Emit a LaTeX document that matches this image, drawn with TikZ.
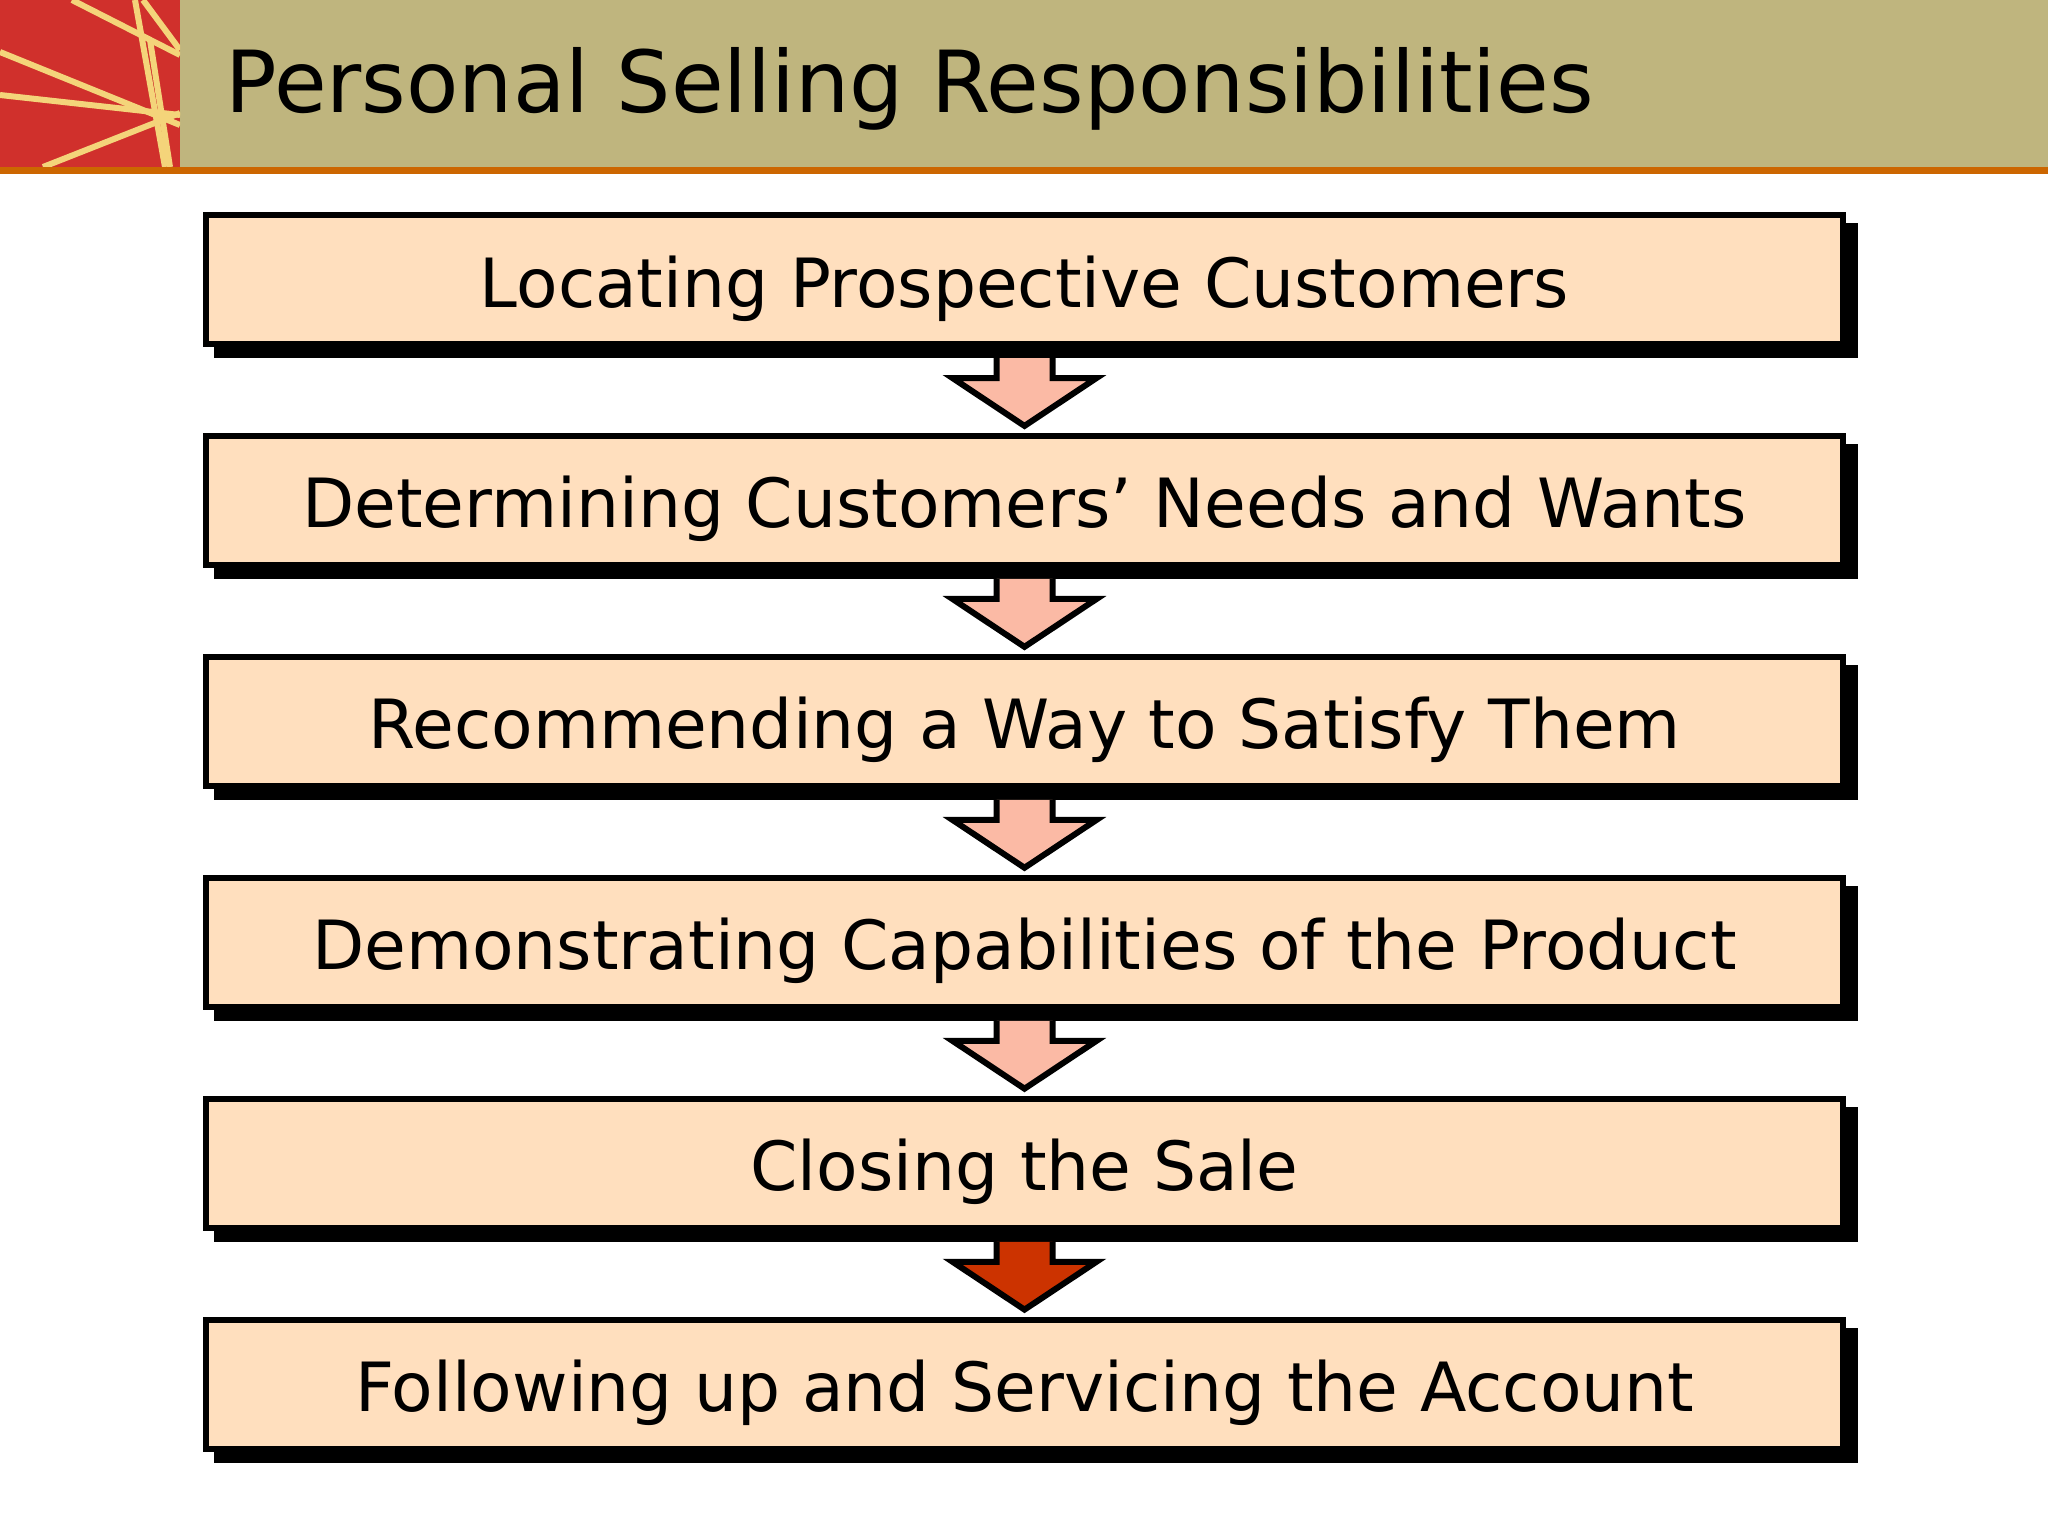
\documentclass[tikz,border=0pt]{standalone}
\usepackage{fontspec}
\setmainfont{DejaVu Sans}
\usetikzlibrary{positioning,calc,shadows}

\definecolor{headtan}{RGB}{191,181,126}
\definecolor{logored}{RGB}{208,48,44}
\definecolor{logoline}{RGB}{244,212,122}
\definecolor{rulebar}{RGB}{204,102,0}
\definecolor{boxfill}{RGB}{255,223,190}
\definecolor{arrowpink}{RGB}{251,186,165}
\definecolor{arrowred}{RGB}{204,51,0}

\tikzset{
  stepbox/.style={draw=black, line width=0.06cm, fill=boxfill,
    minimum width=16.37cm, minimum height=1.29cm, inner sep=0pt,
    text height=0.55cm, text depth=0pt, font=\fontsize{19.3}{23}\selectfont,
    drop shadow={shadow xshift=0.11cm, shadow yshift=-0.11cm,
      fill=black, draw=black, line width=0.06cm, opacity=1}},
  blockarrow/.style={draw=black, line width=0.06cm, line join=miter}
}

\newcommand\flowarrow[3]{%
  \filldraw[blockarrow, fill=#3] ($(#1.south)+(-28,11)$) -- ($(#1.south)+(-28,31)$)
    -- ($(#1.south)+(-72,31)$) -- ($(#2.north)+(0,-7)$) -- ($(#1.south)+(72,31)$)
    -- ($(#1.south)+(28,31)$) -- ($(#1.south)+(28,11)$);
}

\begin{document}
\begin{tikzpicture}[x=0.01cm, y=-0.01cm, node distance=0.858cm]
\useasboundingbox[fill=white] (0,0) rectangle (2048,1536);

\fill[headtan] (0,0) rectangle (2048,167);
\fill[logored] (0,0) rectangle (180,167);
\begin{scope}
\clip (0,0) rectangle (180,167);
\draw[logoline, line width=0.06cm] (72,0) -- (180,55);
\draw[logoline, line width=0.06cm] (135,0) -- (165,167);
\draw[logoline, line width=0.06cm] (143,0) -- (180,50);
\draw[logoline, line width=0.06cm] (0,52) -- (180,125);
\draw[logoline, line width=0.06cm] (0,95) -- (180,115);
\draw[logoline, line width=0.06cm] (43,167) -- (180,113);
\draw[logoline, line width=0.06cm] (150,40) -- (170,167);
\end{scope}
\fill[rulebar] (0,167) rectangle (2048,174);

\node[anchor=base west, font=\fontsize{24.35}{29}\selectfont] (title) at (213,112) {Personal Selling Responsibilities};

\node[stepbox] (locate) at (1024.5,279.5) {Locating Prospective Customers};
\node[stepbox, below=of locate] (needs) {Determining Customers’ Needs and Wants};
\node[stepbox, below=of needs] (recommend) {Recommending a Way to Satisfy Them};
\node[stepbox, below=of recommend] (demo) {Demonstrating Capabilities of the Product};
\node[stepbox, below=of demo] (close) {Closing the Sale};
\node[stepbox, below=of close] (follow) {Following up and Servicing the Account};

\flowarrow{locate}{needs}{arrowpink}
\flowarrow{needs}{recommend}{arrowpink}
\flowarrow{recommend}{demo}{arrowpink}
\flowarrow{demo}{close}{arrowpink}
\flowarrow{close}{follow}{arrowred}
\end{tikzpicture}
\end{document}
